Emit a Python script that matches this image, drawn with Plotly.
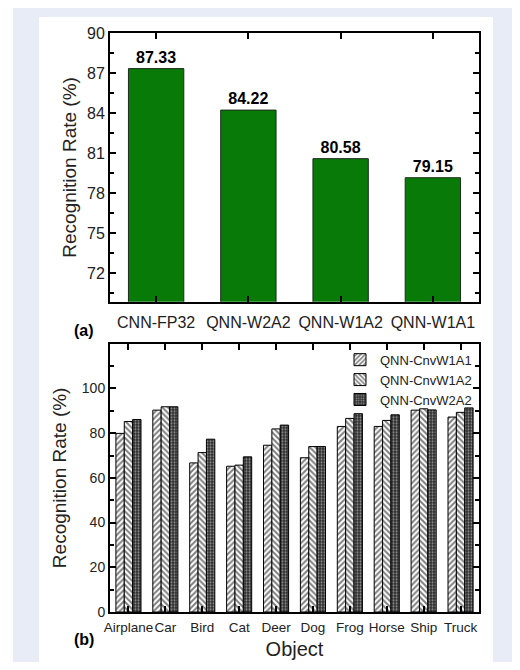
import plotly.graph_objects as go

# ---------- data ----------
models = ["CNN-FP32", "QNN-W2A2", "QNN-W1A2", "QNN-W1A1"]
model_rates = [87.33, 84.22, 80.58, 79.15]

objects = ["Airplane", "Car", "Bird", "Cat", "Deer", "Dog", "Frog", "Horse", "Ship", "Truck"]
cnv_w1a1 = [79.9, 90.3, 66.7, 65.2, 74.6, 69.0, 83.0, 83.0, 90.3, 87.2]
cnv_w1a2 = [85.2, 91.8, 71.3, 65.7, 81.9, 74.0, 86.6, 85.7, 90.9, 89.3]
cnv_w2a2 = [86.1, 91.8, 77.3, 69.4, 83.6, 74.0, 88.7, 88.2, 90.4, 91.3]

top_ticks = [72, 75, 78, 81, 84, 87, 90]
bottom_ticks = [0, 20, 40, 60, 80, 100]

# page layout (browser body margin 8px)
OFF = 8
W, H = 520 - 2 * OFF, 670 - 2 * OFF
PL, PR, PT, PB = 110, 479, 33, 612.5   # outer plot area in page pixels
FONT = "Liberation Sans, Arial, sans-serif"

def px(x):
    return (x - PL) / (PR - PL)

def py(y):
    return (PB - y) / (PB - PT)

fig = go.Figure()

# ---------- top chart ----------
fig.add_trace(go.Bar(
    x=models, y=model_rates, xaxis="x", yaxis="y",
    width=0.6,
    marker=dict(color="#077a07", line=dict(color="#1c2a1c", width=1)),
    texttemplate="%{y:.2f}", textposition="outside",
    textfont=dict(family=FONT, size=16, color="black", weight="bold"),
    cliponaxis=False, showlegend=False,
))

# ---------- bottom chart ----------
series = [
    ("QNN-CnvW1A1", cnv_w1a1, dict(shape="/", size=4, solidity=0.5, fgcolor="black", bgcolor="white")),
    ("QNN-CnvW1A2", cnv_w1a2, dict(shape="\\", size=4, solidity=0.5, fgcolor="black", bgcolor="white")),
    ("QNN-CnvW2A2", cnv_w2a2, dict(shape=".", size=3, solidity=0.35, fgcolor="white", bgcolor="#2e2e2e")),
]
for name, vals, pat in series:
    fig.add_trace(go.Bar(
        x=objects, y=vals, name=name, xaxis="x2", yaxis="y2",
        marker=dict(color="white", pattern=pat, line=dict(color="black", width=1)),
    ))

axis_common = dict(
    showline=True, linecolor="black", linewidth=2, mirror="ticks",
    ticks="inside", tickcolor="black", tickwidth=1.5, ticklen=6,
    showgrid=False, zeroline=False, automargin=False,
)

fig.update_layout(
    width=W, height=H,
    margin=dict(l=PL - OFF, r=(520 - OFF) - PR, t=PT - OFF, b=(670 - OFF) - PB, autoexpand=False),
    paper_bgcolor="#e7ecf6",
    plot_bgcolor="rgba(0,0,0,0)",
    font=dict(family=FONT, color="#222222"),
    barmode="group", bargap=0.32, bargroupgap=0,
    xaxis=dict(domain=[0, 1], anchor="y",
               tickfont=dict(size=16), tickangle=0, ticklabelstandoff=5,
               **axis_common),
    yaxis=dict(domain=[py(302), 1], anchor="x", range=[69.85, 90],
               tickvals=top_ticks, tickfont=dict(size=16),
               minor=dict(dtick=1.5, tick0=72, ticks="inside", ticklen=4, tickcolor="black", tickwidth=1.5),
               title=dict(text="Recognition Rate (%)", font=dict(size=19), standoff=5),
               **axis_common),
    xaxis2=dict(domain=[0, 1], anchor="y2",
                tickfont=dict(size=13.5), tickangle=0, ticklabelstandoff=2,
                title=dict(text="Object", font=dict(size=20), standoff=8),
                **axis_common),
    yaxis2=dict(domain=[0, py(344)], anchor="x2", range=[0, 120],
                tickvals=bottom_ticks, tickfont=dict(size=14),
                minor=dict(dtick=10, tick0=0, ticks="inside", ticklen=4, tickcolor="black", tickwidth=1.5),
                title=dict(text="Recognition Rate (%)", font=dict(size=19), standoff=10),
                **axis_common),
    legend=dict(x=px(477), xanchor="right", y=py(345), yanchor="top",
                bgcolor="rgba(0,0,0,0)", font=dict(size=13, color="#222222"),
                tracegroupgap=0, itemwidth=30),
    shapes=[
        dict(type="rect", xref="paper", yref="paper", x0=px(0), x1=px(13), y0=py(700), y1=py(-10),
             fillcolor="white", line=dict(width=0), layer="below"),
        dict(type="rect", xref="paper", yref="paper", x0=px(39), x1=px(493), y0=py(700), y1=py(17),
             fillcolor="white", line=dict(width=0), layer="below"),
    ],
    annotations=[
        dict(text="<b>(a)</b>", xref="paper", yref="paper", x=px(84), y=py(331),
             xanchor="center", yanchor="middle",
             showarrow=False, font=dict(size=16, color="black")),
        dict(text="<b>(b)</b>", xref="paper", yref="paper", x=px(84), y=py(640),
             xanchor="center", yanchor="middle",
             showarrow=False, font=dict(size=16, color="black")),
    ],
)

fig.write_html("out.html")
